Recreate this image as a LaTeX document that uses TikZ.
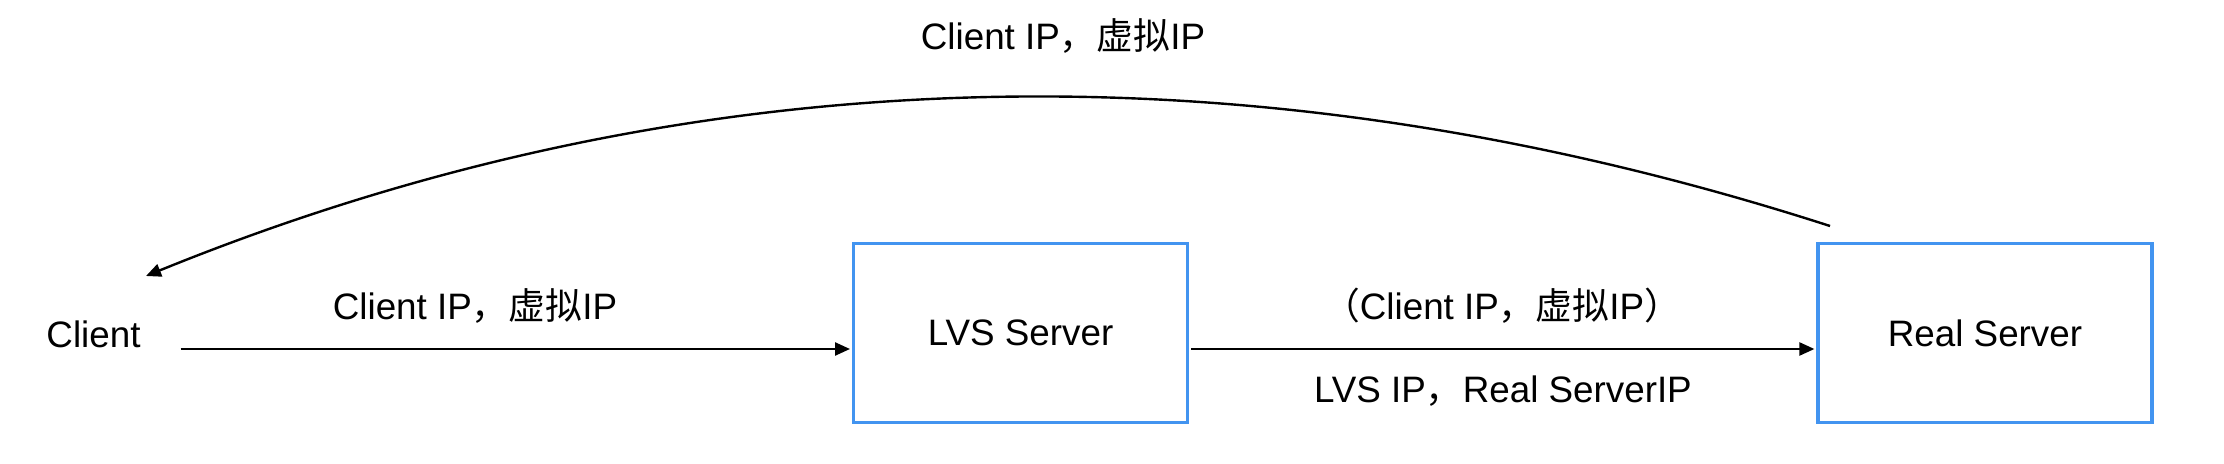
\documentclass[tikz,border=0pt]{standalone}
\usepackage{fontspec}
\setmainfont{Liberation Sans}
\newfontfamily\cjk{Noto Sans CJK SC}
\usetikzlibrary{arrows.meta}
\definecolor{boxblue}{RGB}{66,148,240}
\begin{document}
\begin{tikzpicture}[x=0.5pt,y=-0.5pt,
  every node/.style={font=\fontsize{18.4pt}{22pt}\selectfont, inner sep=0pt, outer sep=0pt},
  server/.style={draw=boxblue, line width=1.6pt, minimum width=167pt, minimum height=89.6pt, outer sep=1.8pt},
  lbl/.style={anchor=base},
  arr/.style={line width=1.2pt, -{Triangle[length=7.5pt,width=6.5pt]}},
]
\useasboundingbox (0,0) rectangle (2224,464);
\node[server] (lvs) at (1020.6,333.3) {LVS Server};
\node[server] (rs) at (1985,333.3) {Real Server};
\node[lbl] (client) at (93.5,348) {Client};
\coordinate (ay) at (0,349);
\node[lbl] (top) at (1063,49.3) {Client IP{\cjk ，虚拟}IP};
\node[lbl] (l1) at (475,320) {Client IP{\cjk ，虚拟}IP};
\node[lbl] (l2) at (1502,320) {{\cjk （}Client IP{\cjk ，虚拟}IP{\cjk ）}};
\node[lbl] (l3) at (1503,403) {LVS IP{\cjk ，}Real ServerIP};
\draw[arr, shorten <=20pt] (client.east |- ay) -- (lvs.west |- ay);
\draw[arr] (lvs.east |- ay) -- (rs.west |- ay);
\coordinate (cs) at (1830,226);
\coordinate (ce) at (146,276);
\draw[arr] (cs) .. controls (1250,39) and (689,55) .. (ce);
\end{tikzpicture}
\end{document}
